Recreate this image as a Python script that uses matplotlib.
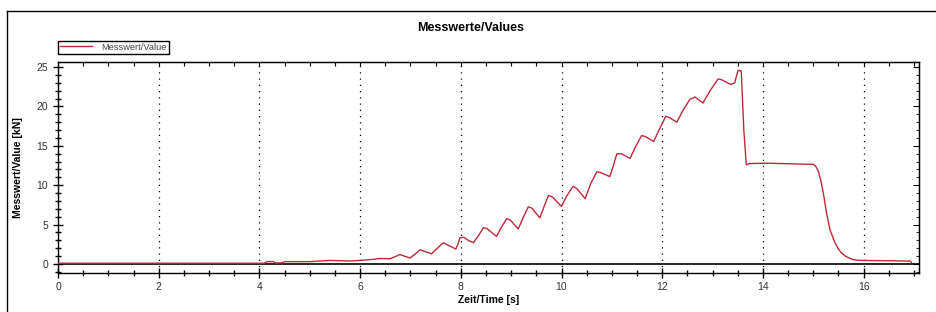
import matplotlib
matplotlib.use('Agg')
import matplotlib.pyplot as plt
from matplotlib.lines import Line2D
from matplotlib.ticker import MultipleLocator

plt.rcParams['font.family'] = ['Liberation Sans', 'DejaVu Sans']

# Messwerte (Zeit in s, Kraft in kN)
zeit = [0, 4.1, 4.15, 4.28, 4.32, 4.45, 4.5, 5.0, 5.4, 5.6, 5.8, 6.0, 6.2, 6.4,
        6.6, 6.72, 6.79, 6.99, 7.1, 7.19, 7.42, 7.55, 7.65, 7.9, 7.95, 7.98,
        8.06, 8.15, 8.25, 8.35, 8.45, 8.52, 8.71, 8.8, 8.91, 8.98, 9.14, 9.24,
        9.34, 9.41, 9.57, 9.66, 9.74, 9.82, 10.0, 10.1, 10.23, 10.3, 10.47,
        10.58, 10.7, 10.78, 10.96, 11.03, 11.1, 11.19, 11.36, 11.48, 11.59,
        11.66, 11.83, 11.95, 12.07, 12.14, 12.29, 12.42, 12.55, 12.65, 12.81,
        12.95, 13.11, 13.18, 13.36, 13.44, 13.48, 13.51, 13.57, 13.62, 13.67,
        13.73, 14.07, 15.0, 15.05, 15.1, 15.15, 15.2, 15.26, 15.33, 15.43,
        15.5, 15.56, 15.65, 15.79, 15.9, 16.02, 16.92, 16.95]
messwert = [0.1, 0.1, 0.3, 0.3, 0.12, 0.15, 0.3, 0.3, 0.45, 0.42, 0.38, 0.45,
            0.55, 0.7, 0.67, 1.0, 1.2, 0.76, 1.3, 1.8, 1.3, 2.1, 2.7, 1.9, 2.6,
            3.3, 3.4, 3.0, 2.7, 3.6, 4.6, 4.5, 3.5, 4.6, 5.75, 5.6, 4.45, 5.9,
            7.25, 7.1, 5.85, 7.4, 8.7, 8.5, 7.3, 8.6, 9.86, 9.6, 8.3, 10.2,
            11.7, 11.6, 11.1, 12.5, 14.0, 14.0, 13.4, 15.0, 16.3, 16.2, 15.55,
            17.2, 18.75, 18.6, 18.0, 19.6, 20.9, 21.2, 20.45, 22.0, 23.5, 23.4,
            22.8, 23.0, 24.0, 24.6, 24.5, 17.1, 12.6, 12.75, 12.8, 12.65, 12.4,
            11.8, 10.6, 9.0, 6.6, 4.4, 2.7, 1.9, 1.4, 0.95, 0.55, 0.47, 0.45,
            0.38, 0.2]

W, H = 936, 312
fig = plt.figure(figsize=(W / 100, H / 100), dpi=100)
ax = fig.add_axes([58 / W, 1 - 272.5 / H, (919 - 58) / W, (272.5 - 62) / H])

# outer frame (top + left edge)
fig.add_artist(Line2D([7.5 / W, 1], [1 - 11 / H, 1 - 11 / H], color='black', lw=1.0))
fig.add_artist(Line2D([7.5 / W, 7.5 / W], [0, 1 - 11 / H], color='black', lw=1.0))

ax.plot(zeit, messwert, color='#c0283a', lw=1.0, label='Messwert/Value', zorder=3)
ax.axhline(0, color='black', lw=1.2, zorder=2)

ax.set_xlim(0, 17.1)
ax.set_ylim(-1.08, 25.65)
ax.xaxis.set_major_locator(MultipleLocator(2))
ax.xaxis.set_minor_locator(MultipleLocator(0.5))
ax.yaxis.set_major_locator(MultipleLocator(5))
ax.yaxis.set_minor_locator(MultipleLocator(1))
ax.grid(axis='x', which='major', color='black', linestyle=(0, (1, 4)), lw=0.9)

ax.tick_params(which='both', direction='inout', labelsize=7.5, labelcolor='#333333', width=1.0)
ax.tick_params(which='major', length=7)
ax.tick_params(which='minor', length=5)

top = ax.secondary_xaxis('top')
top.xaxis.set_major_locator(MultipleLocator(0.5))
top.tick_params(direction='in', length=3, labeltop=False)
right = ax.secondary_yaxis('right')
right.yaxis.set_major_locator(MultipleLocator(5))
right.yaxis.set_minor_locator(MultipleLocator(1))
right.tick_params(which='major', direction='in', length=4, labelright=False)
right.tick_params(which='minor', direction='in', length=2)

for s in ax.spines.values():
    s.set_linewidth(1.0)

ax.set_xlabel('Zeit/Time [s]', fontsize=7.5, fontweight='bold', labelpad=2)
ax.set_ylabel('Messwert/Value [kN]', fontsize=7.5, fontweight='bold', labelpad=10)
fig.text(471 / W, 1 - 28 / H, 'Messwerte/Values', ha='center', va='center',
         fontsize=9, fontweight='bold')

leg = ax.legend(loc='lower left', bbox_to_anchor=(58 / W, 1 - 53.5 / H),
                bbox_transform=fig.transFigure, fontsize=6.7, fancybox=False,
                edgecolor='black', framealpha=1, borderpad=0.2, handlelength=3.5,
                borderaxespad=0, handletextpad=1.0)
leg.get_frame().set_linewidth(1.0)
for t in leg.get_texts():
    t.set_color('#444444')

fig.savefig('out.png', dpi=100)
